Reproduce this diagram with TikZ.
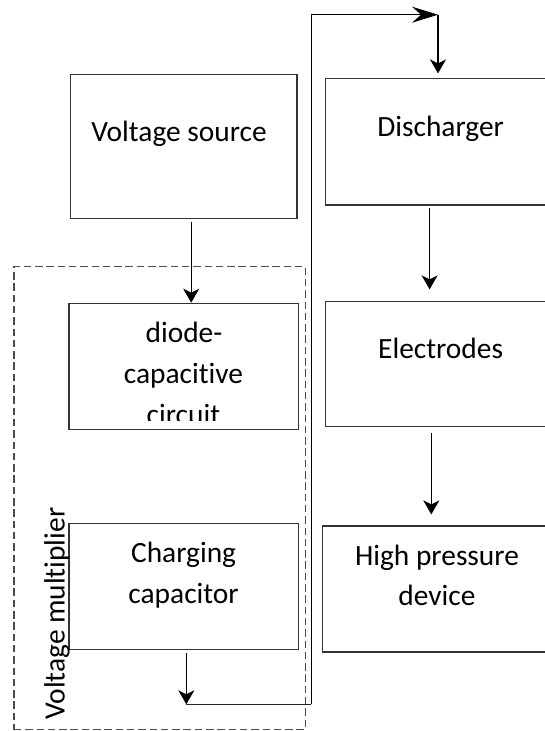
\documentclass[tikz,border=0pt]{standalone}
\usepackage{fontspec}
\setmainfont[Ligatures=NoCommon]{Carlito}
\usetikzlibrary{arrows.meta,calc}
\begin{document}
\begin{tikzpicture}[x=1pt,y=-1pt,
  box/.style={draw=black!80, line width=1.2pt, rectangle, inner sep=0pt},
  group/.style={draw=black!70, line width=1.3pt, dash pattern=on 7.5pt off 3.8pt, rectangle, inner sep=0pt},
  lbl/.style={font=\fontsize{29.4}{41}\selectfont, inner sep=0pt, anchor=base},
  conn/.style={draw=black, line width=1.1pt},
  arr/.style={conn, -{Stealth[length=14pt,width=16pt,inset=4pt]}},
  longarr/.style={conn, -{Stealth[length=26pt,width=16pt,inset=9pt]}}
]
\useasboundingbox (0,0) rectangle (544,731);

% boxes
\node[box, minimum width=226.6pt, minimum height=144.4pt] (vs) at (183.7,146.5) {};
\node[group, minimum width=291.4pt, minimum height=462.8pt] (vm) at (159.6,498.1) {};
\node[box, minimum width=229.4pt, minimum height=126.4pt] (dc) at (183.7,366.5) {};
\node[box, minimum width=229.4pt, minimum height=126pt] (cc) at (183.7,586.7) {};
\node[box, minimum width=230pt, minimum height=126.3pt] (dis) at (440.5,141.85) {};
\node[box, minimum width=230pt, minimum height=125pt] (el) at (440.5,364.2) {};
\node[box, minimum width=230pt, minimum height=126pt] (hp) at (437.3,589) {};

% labels
\node[lbl] (vst) at (179,141.7) {Voltage source};
\node[lbl] (dist) at (440.6,136.7) {Discharger};
\node[lbl] (dct1) at (184,342.5) {diode-};
\node[lbl] (dct2) at (183.5,383.3) {capacitive};
\begin{scope}
  \clip (70,300) rectangle (297,420);
  \node[lbl] (dct3) at (183.4,424.3) {circuit};
\end{scope}
\node[lbl] (elt) at (440.6,358.3) {Electrodes};
\node[lbl] (cct1) at (183.6,562.7) {Charging};
\node[lbl] (cct2) at (183.6,603.3) {capacitor};
\node[lbl] (hpt1) at (437,565) {High pressure};
\node[lbl] (hpt2) at (437,605) {device};
\node[lbl, rotate=90, anchor=base west] (vmt) at (64.5,720) {Voltage multiplier};

% connector corner points
\coordinate (b1) at (186.3,704.3);
\coordinate (b2) at (311.2,704.3);
\coordinate (t1) at (311.2,14.7);
\coordinate (t2) at (438,14.7);

% connectors
\draw[arr] ($(vs.south)+(7.5,2.3)$) -- ($(dc.north)+(7.5,0)$);
\draw[arr] ($(cc.south)+(2.6,2.3)$) -- (b1);
\draw[conn, draw=black!85] (b1) -- (b2);
\draw[longarr] (b2) -- (t1) -- (t2);
\draw[arr] (t2) -- ($(dis.north -| t2)+(0,-4.7)$);
\draw[arr] ($(dis.south)+(-10.9,2.3)$) -- ($(el.north)+(-10.9,-11.7)$);
\draw[arr] ($(el.south)+(-9.2,5.6)$) -- ($(hp.north)+(-6,-11)$);
\end{tikzpicture}
\end{document}
